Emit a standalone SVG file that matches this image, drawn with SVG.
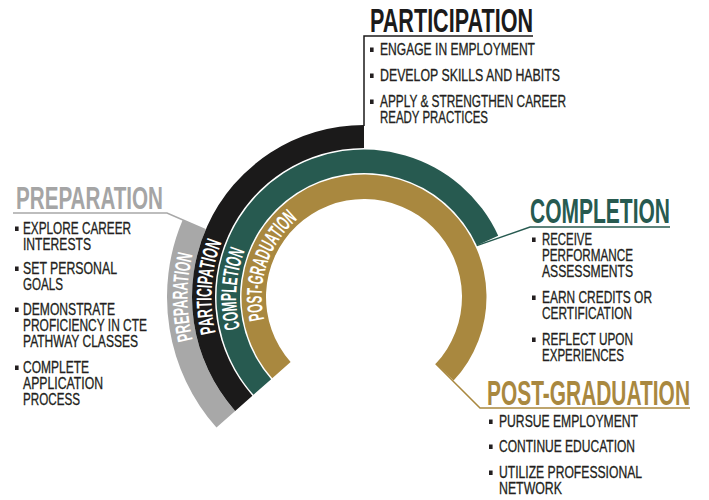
<svg xmlns="http://www.w3.org/2000/svg" width="709" height="500" viewBox="0 0 709 500">
<style>
.hd{font-family:'Liberation Sans Narrow','Liberation Sans',Arial,sans-serif;font-weight:700}
.bt{font-family:'Liberation Sans Narrow','Liberation Sans',Arial,sans-serif;font-size:16px;fill:#231f20;stroke:#231f20;stroke-width:0.3}
.at{font-family:'Liberation Sans Narrow','Liberation Sans',Arial,sans-serif;font-weight:700;font-size:21.5px;fill:#ffffff}
.ln{fill:none;stroke-width:1.5}
.gray{fill:#a8a8a8}
.blk{fill:#1b1a1a}
.teal{fill:#275a50}
.gold{fill:#a9883f}
.bul{fill:#231f20}
</style>
<defs>
<path id="pPrep" d="M192.74,339.70 A176.5,176.5 0 0 1 198.14,236.63"/>
<path id="pPart" d="M215.71,332.60 A152.5,152.5 0 0 1 231.93,220.75"/>
<path id="pComp" d="M240.15,328.33 A127.75,127.75 0 0 1 259.35,223.72"/>
<path id="pPost" d="M264.25,319.48 A102.25,102.25 0 0 1 312.88,208.45"/>
</defs>
<rect width="709" height="500" fill="#ffffff"/>

<g id="connectors">
<polyline class="ln" stroke="#a8a8a8" points="205.5,229.8 167,213 13,213"/>
<polyline class="ln" stroke="#1b1a1a" points="364,126 364,36 533,36"/>
<polyline class="ln" stroke="#275a50" points="476.8,245.6 530,227 670,227"/>
<polyline class="ln" stroke="#a9883f" points="435.7,363.8 480,408 690,408"/>
</g>

<g id="preparation">
<path class="gray" d="M216.45,427.54 A197,197 0 0 1 182.66,220.03 L205.67,229.79 A172,172 0 0 0 235.18,410.97 Z"/>
<text class="at"><textPath href="#pPrep" textLength="86" lengthAdjust="spacingAndGlyphs">PREPARATION</textPath></text>
<text class="hd" x="16" y="209" font-size="32" fill="#a5a5a5" textLength="147" lengthAdjust="spacingAndGlyphs">PREPARATION</text>
<rect class="bul" x="15" y="226.5" width="3.6" height="4.5"/>
<rect class="bul" x="15" y="266.5" width="3.6" height="4.5"/>
<rect class="bul" x="15" y="307.5" width="3.6" height="4.5"/>
<rect class="bul" x="15" y="365.5" width="3.6" height="4.5"/>
<text class="bt" x="23" y="234" textLength="108" lengthAdjust="spacingAndGlyphs">EXPLORE CAREER</text>
<text class="bt" x="23" y="249.5" textLength="68" lengthAdjust="spacingAndGlyphs">INTERESTS</text>
<text class="bt" x="23" y="274" textLength="94" lengthAdjust="spacingAndGlyphs">SET PERSONAL</text>
<text class="bt" x="23" y="290" textLength="40" lengthAdjust="spacingAndGlyphs">GOALS</text>
<text class="bt" x="23" y="315" textLength="92" lengthAdjust="spacingAndGlyphs">DEMONSTRATE</text>
<text class="bt" x="23" y="331" textLength="124" lengthAdjust="spacingAndGlyphs">PROFICIENCY IN CTE</text>
<text class="bt" x="23" y="347" textLength="115" lengthAdjust="spacingAndGlyphs">PATHWAY CLASSES</text>
<text class="bt" x="23" y="373" textLength="66" lengthAdjust="spacingAndGlyphs">COMPLETE</text>
<text class="bt" x="23" y="389" textLength="80" lengthAdjust="spacingAndGlyphs">APPLICATION</text>
<text class="bt" x="23" y="405" textLength="57" lengthAdjust="spacingAndGlyphs">PROCESS</text>
</g>

<g id="participation">
<path class="blk" d="M235.18,410.97 A172,172 0 0 1 364,125 L364,148 A149,149 0 0 0 252.40,395.73 Z"/>
<text class="at"><textPath href="#pPart" textLength="92" lengthAdjust="spacingAndGlyphs">PARTICIPATION</textPath></text>
<text class="hd" x="370" y="32" font-size="33" fill="#1b1a1a" textLength="163" lengthAdjust="spacingAndGlyphs">PARTICIPATION</text>
<rect class="bul" x="370" y="47.5" width="3.6" height="4.5"/>
<rect class="bul" x="370" y="73.5" width="3.6" height="4.5"/>
<rect class="bul" x="370" y="99.5" width="3.6" height="4.5"/>
<text class="bt" x="380" y="55" textLength="155" lengthAdjust="spacingAndGlyphs">ENGAGE IN EMPLOYMENT</text>
<text class="bt" x="380" y="81" textLength="180" lengthAdjust="spacingAndGlyphs">DEVELOP SKILLS AND HABITS</text>
<text class="bt" x="380" y="107" textLength="186" lengthAdjust="spacingAndGlyphs">APPLY &amp; STRENGTHEN CAREER</text>
<text class="bt" x="380" y="123" textLength="108" lengthAdjust="spacingAndGlyphs">READY PRACTICES</text>
</g>

<g id="completion">
<path class="teal" d="M253.53,394.74 A147.5,147.5 0 1 1 498.22,235.83 L476.84,245.58 A124,124 0 1 0 271.13,379.16 Z"/>
<text class="at"><textPath href="#pComp" textLength="79" lengthAdjust="spacingAndGlyphs">COMPLETION</textPath></text>
<text class="hd" x="530" y="223" font-size="35" fill="#275a50" textLength="140" lengthAdjust="spacingAndGlyphs">COMPLETION</text>
<rect class="bul" x="532" y="237.5" width="3.6" height="4.5"/>
<rect class="bul" x="532" y="295.5" width="3.6" height="4.5"/>
<rect class="bul" x="532" y="337.5" width="3.6" height="4.5"/>
<text class="bt" x="542" y="245" textLength="50" lengthAdjust="spacingAndGlyphs">RECEIVE</text>
<text class="bt" x="542" y="261" textLength="91" lengthAdjust="spacingAndGlyphs">PERFORMANCE</text>
<text class="bt" x="542" y="277" textLength="91" lengthAdjust="spacingAndGlyphs">ASSESSMENTS</text>
<text class="bt" x="542" y="303" textLength="110" lengthAdjust="spacingAndGlyphs">EARN CREDITS OR</text>
<text class="bt" x="542" y="318.5" textLength="90" lengthAdjust="spacingAndGlyphs">CERTIFICATION</text>
<text class="bt" x="542" y="345" textLength="91" lengthAdjust="spacingAndGlyphs">REFLECT UPON</text>
<text class="bt" x="542" y="361" textLength="82" lengthAdjust="spacingAndGlyphs">EXPERIENCES</text>
</g>

<g id="post-graduation">
<path class="gold" d="M272.25,378.17 A122.5,122.5 0 1 1 453.59,380.55 L435.67,363.84 A98,98 0 1 0 290.60,361.94 Z"/>
<text class="at"><textPath href="#pPost" textLength="111" lengthAdjust="spacingAndGlyphs">POST-GRADUATION</textPath></text>
<text class="hd" x="487" y="405" font-size="35" fill="#a9883f" textLength="203" lengthAdjust="spacingAndGlyphs">POST-GRADUATION</text>
<rect class="bul" x="489" y="419.5" width="3.6" height="4.5"/>
<rect class="bul" x="489" y="444.5" width="3.6" height="4.5"/>
<rect class="bul" x="489" y="470.5" width="3.6" height="4.5"/>
<text class="bt" x="499" y="427" textLength="139" lengthAdjust="spacingAndGlyphs">PURSUE EMPLOYMENT</text>
<text class="bt" x="499" y="452" textLength="136" lengthAdjust="spacingAndGlyphs">CONTINUE EDUCATION</text>
<text class="bt" x="499" y="478" textLength="143" lengthAdjust="spacingAndGlyphs">UTILIZE PROFESSIONAL</text>
<text class="bt" x="499" y="494" textLength="63" lengthAdjust="spacingAndGlyphs">NETWORK</text>
</g>
</svg>
